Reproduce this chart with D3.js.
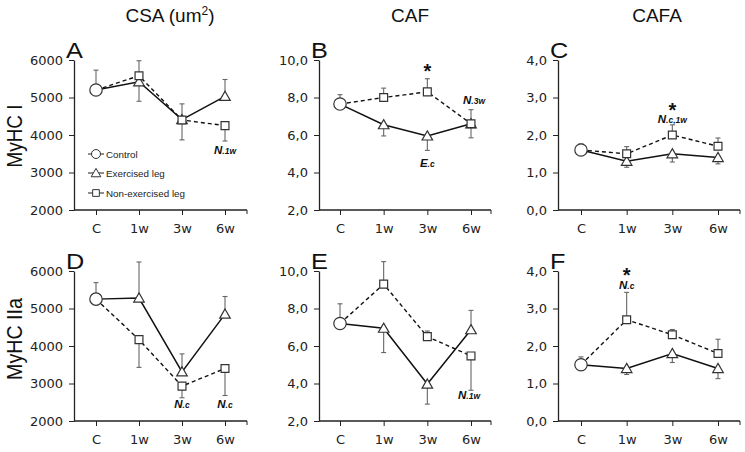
<!DOCTYPE html>
<html><head><meta charset="utf-8">
<script src="https://cdn.jsdelivr.net/npm/d3@7"></script>
<style>
html,body{margin:0;padding:0;background:#fff;}
svg{display:block;}
</style>
</head><body>
<svg id="chart" width="745" height="452"></svg>
<script>
// ---------------- DATA ----------------
const categories = ["C", "1w", "3w", "6w"];
const columnTitles = ["CSA (um", "CAF", "CAFA"];
const rowTitles = ["MyHC I", "MyHC IIa"];
const panelLetters = ["A", "B", "C", "D", "E", "F"];
const legendLabels = ["Control", "Exercised leg", "Non-exercised leg"];

const yDomainCSA = [2000, 6000];
const yDomainCAF = [2, 10];
const yDomainCAFA = [0, 4];
const yTicksCSA = [2000, 3000, 4000, 5000, 6000];
const yTicksCAF = [2, 4, 6, 8, 10];
const yTicksCAFA = [0, 1, 2, 3, 4];

// control value at "C" and its error-bar end
const controlValues = [5200, 7.65, 1.6, 5250, 7.2, 1.5];
const controlErrEnd = [5730, 8.15, 1.76, 5690, 8.25, 1.71];

// Exercised leg (1w, 3w, 6w) and error-bar ends
const exercisedA = [5420, 4410, 5030];
const exercisedErrA = [4900, 3870, 5480];
const exercisedB = [6.55, 5.95, 6.6];
const exercisedErrB = [5.95, 5.18, 5.85];
const exercisedC = [1.3, 1.5, 1.4];
const exercisedErrC = [1.14, 1.28, 1.23];
const exercisedD = [5280, 3310, 4850];
const exercisedErrD = [6240, 3790, 5320];
const exercisedE = [6.95, 3.97, 6.87];
const exercisedErrE = [5.65, 2.9, 7.9];
const exercisedF = [1.4, 1.8, 1.4];
const exercisedErrF = [1.24, 1.56, 1.13];

// Non-exercised leg (1w, 3w, 6w) and error-bar ends
const nonExercisedA = [5580, 4400, 4250];
const nonExercisedErrA = [5980, 4830, 3840];
const nonExercisedB = [8.0, 8.3, 6.6];
const nonExercisedErrB = [8.5, 9.0, 7.35];
const nonExercisedC = [1.5, 2.0, 1.7];
const nonExercisedErrC = [1.69, 2.27, 1.92];
const nonExercisedD = [4170, 2930, 3400];
const nonExercisedErrD = [3430, 2620, 2680];
const nonExercisedE = [9.3, 6.5, 5.47];
const nonExercisedErrE = [10.5, 6.8, 3.64];
const nonExercisedF = [2.7, 2.3, 1.8];
const nonExercisedErrF = [3.43, 2.44, 2.18];

// significance annotations: panel index, category, anchor value, main text, subscript text
const annotations = [
  {p:0, cat:"6w", v:3600, main:"N", sub:".1w"},
  {p:1, cat:"3w", v:9.52, star:true},
  {p:1, cat:"6w", v:7.87, main:"N", sub:".3w", dx:3},
  {p:1, cat:"3w", v:4.51, main:"E", sub:".c"},
  {p:2, cat:"3w", v:2.72, star:true},
  {p:2, cat:"3w", v:2.43, main:"N", sub:".c,1w"},
  {p:3, cat:"3w", v:2450, main:"N", sub:".c"},
  {p:3, cat:"6w", v:2450, main:"N", sub:".c"},
  {p:4, cat:"6w", v:3.40, main:"N", sub:".1w", dx:-2},
  {p:5, cat:"1w", v:3.95, star:true},
  {p:5, cat:"1w", v:3.63, main:"N", sub:".c"}
];

// ---------------- LAYOUT ----------------
const svg = d3.select("#chart");
const cols = [
  {axisX:74, x0:96, x1:225, xEnd:247},
  {axisX:319, x0:340, x1:471, xEnd:491},
  {axisX:558, x0:581, x1:718, xEnd:740}
];
const rows = [{top:60, bottom:210}, {top:271, bottom:421}];
const yDomains = [yDomainCSA, yDomainCAF, yDomainCAFA];
const yTicks = [yTicksCSA, yTicksCAF, yTicksCAFA];
const exercised = [exercisedA, exercisedB, exercisedC, exercisedD, exercisedE, exercisedF];
const exercisedErr = [exercisedErrA, exercisedErrB, exercisedErrC, exercisedErrD, exercisedErrE, exercisedErrF];
const nonExercised = [nonExercisedA, nonExercisedB, nonExercisedC, nonExercisedD, nonExercisedE, nonExercisedF];
const nonExercisedErr = [nonExercisedErrA, nonExercisedErrB, nonExercisedErrC, nonExercisedErrD, nonExercisedErrE, nonExercisedErrF];

const tickFont = "'DejaVu Sans', Verdana, sans-serif";
const titleFont = "'Liberation Sans', Arial, sans-serif";
const commaFmt = d => d3.format(".1f")(d).replace(".", ",");
const fmts = [d3.format("d"), commaFmt, commaFmt];

const triangle = d3.symbol().type(d3.symbolTriangle).size(48);
const square = d3.symbol().type(d3.symbolSquare).size(62);

// column titles
const titleX = [170, 410, 657];
columnTitles.forEach((t, i) => {
  const tx = svg.append("text").attr("x", titleX[i]).attr("y", 22)
    .attr("text-anchor", "middle").attr("font-family", titleFont)
    .attr("font-size", 19).attr("fill", "#111").text(t);
  if (i === 0) {
    tx.append("tspan").attr("font-size", 12).attr("dy", -7).text("2");
    tx.append("tspan").attr("dy", 7).text(")");
  }
});
// row titles
const rowY = [136, 339];
const rowLen = [63, 82];
rowTitles.forEach((t, i) => {
  svg.append("text").attr("transform", `translate(22,${rowY[i]}) rotate(-90)`)
    .attr("text-anchor", "middle").attr("font-family", titleFont)
    .attr("font-size", 22).attr("textLength", rowLen[i]).attr("lengthAdjust", "spacingAndGlyphs")
    .attr("fill", "#111").text(t);
});

for (let p = 0; p < 6; p++) {
  const c = p % 3, r = Math.floor(p / 3);
  const col = cols[c], row = rows[r];
  const x = d3.scalePoint().domain(categories).range([col.x0, col.x1]);
  const y = d3.scaleLinear().domain(yDomains[c]).range([row.bottom, row.top]);
  const g = svg.append("g");

  // y axis
  const ya = g.append("g").attr("transform", `translate(${col.axisX},0)`)
    .call(d3.axisLeft(y).tickValues(yTicks[c]).tickFormat(fmts[c]).tickSize(5).tickSizeOuter(0).tickPadding(6));
  ya.select(".domain").attr("stroke", "#222").attr("stroke-width", 1.3);
  ya.selectAll(".tick line").attr("stroke", "#222");
  ya.selectAll("text").attr("font-family", tickFont).attr("font-size", 13).attr("fill", "#222");

  // x axis
  const xa = g.append("g").attr("transform", `translate(0,${row.bottom})`)
    .call(d3.axisBottom(x).tickSize(5).tickPadding(9));
  xa.select(".domain").remove();
  xa.append("line").attr("x1", col.axisX).attr("x2", col.xEnd).attr("y1", 0).attr("y2", 0)
    .attr("stroke", "#222").attr("stroke-width", 1.3);
  xa.append("line").attr("x1", col.xEnd).attr("x2", col.xEnd).attr("y1", 0).attr("y2", 4)
    .attr("stroke", "#222");
  xa.selectAll(".tick line").attr("stroke", "#222");
  xa.selectAll("text").attr("font-family", tickFont).attr("font-size", 13).attr("fill", "#222");

  // panel letter
  g.append("text").attr("transform", `translate(${col.axisX - 8},${row.top - 2}) scale(1.15,1)`)
    .attr("font-family", titleFont).attr("font-size", 22).attr("fill", "#111")
    .text(panelLetters[p]);

  const ctrl = {cat:"C", v:controlValues[p], e:controlErrEnd[p]};
  const exPts = [ctrl].concat(exercised[p].map((v, i) => ({cat:categories[i+1], v, e:exercisedErr[p][i]})));
  const nonPts = [ctrl].concat(nonExercised[p].map((v, i) => ({cat:categories[i+1], v, e:nonExercisedErr[p][i]})));

  // error bars
  const allErr = [ctrl].concat(exPts.slice(1), nonPts.slice(1));
  allErr.forEach(d => {
    g.append("line").attr("x1", x(d.cat)).attr("x2", x(d.cat))
      .attr("y1", y(d.v)).attr("y2", y(d.e)).attr("stroke", "#666").attr("stroke-width", 1.1);
    g.append("line").attr("x1", x(d.cat) - 2.5).attr("x2", x(d.cat) + 2.5)
      .attr("y1", y(d.e)).attr("y2", y(d.e)).attr("stroke", "#666").attr("stroke-width", 1.1);
  });

  const line = d3.line().x(d => x(d.cat)).y(d => y(d.v));
  g.append("path").datum(nonPts).attr("d", line).attr("fill", "none")
    .attr("stroke", "#111").attr("stroke-width", 1.4).attr("stroke-dasharray", "4,3");
  g.append("path").datum(exPts).attr("d", line).attr("fill", "none")
    .attr("stroke", "#111").attr("stroke-width", 1.5);

  // markers
  g.selectAll(".tri").data(exPts.slice(1)).join("path")
    .attr("d", triangle).attr("transform", d => `translate(${x(d.cat)},${y(d.v) + 1})`)
    .attr("fill", "#fff").attr("stroke", "#333").attr("stroke-width", 1.2);
  g.selectAll(".sq").data(nonPts.slice(1)).join("path")
    .attr("d", square).attr("transform", d => `translate(${x(d.cat)},${y(d.v)})`)
    .attr("fill", "#fff").attr("stroke", "#333").attr("stroke-width", 1.2);
  g.append("circle").attr("cx", x("C")).attr("cy", y(ctrl.v)).attr("r", 6.2)
    .attr("fill", "#fff").attr("stroke", "#333").attr("stroke-width", 1.2);

  // annotations
  annotations.filter(a => a.p === p).forEach(a => {
    const ax = x(a.cat) + (a.dx || 0), ay = y(a.v);
    if (a.star) {
      g.append("text").attr("x", ax).attr("y", ay + 9).attr("text-anchor", "middle")
        .attr("font-family", titleFont).attr("font-weight", "bold").attr("font-size", 20)
        .attr("fill", "#111").text("*");
    } else {
      const t = g.append("text").attr("x", ax).attr("y", ay + 4).attr("text-anchor", "middle")
        .attr("font-family", titleFont).attr("font-weight", "bold").attr("font-style", "italic")
        .attr("fill", "#111");
      t.append("tspan").attr("font-size", 11.5).text(a.main);
      t.append("tspan").attr("font-size", 8.5).text(a.sub);
    }
  });
}

// legend (panel A)
const legY = [154, 173, 193];
const legendG = svg.append("g");
legY.forEach((ly, i) => {
  legendG.append("line").attr("x1", 88).attr("x2", 104).attr("y1", ly).attr("y2", ly)
    .attr("stroke", "#333").attr("stroke-width", 1.1);
  if (i === 0) legendG.append("circle").attr("cx", 96).attr("cy", ly).attr("r", 4.5)
    .attr("fill", "#fff").attr("stroke", "#333");
  if (i === 1) legendG.append("path").attr("d", d3.symbol().type(d3.symbolTriangle).size(40))
    .attr("transform", `translate(96,${ly + 1})`).attr("fill", "#fff").attr("stroke", "#333");
  if (i === 2) legendG.append("path").attr("d", d3.symbol().type(d3.symbolSquare).size(45))
    .attr("transform", `translate(96,${ly})`).attr("fill", "#fff").attr("stroke", "#333");
  legendG.append("text").attr("x", 106).attr("y", ly + 3.5).attr("font-family", titleFont)
    .attr("font-size", 9.8).attr("fill", "#222").text(legendLabels[i]);
});
</script>
</body></html>
